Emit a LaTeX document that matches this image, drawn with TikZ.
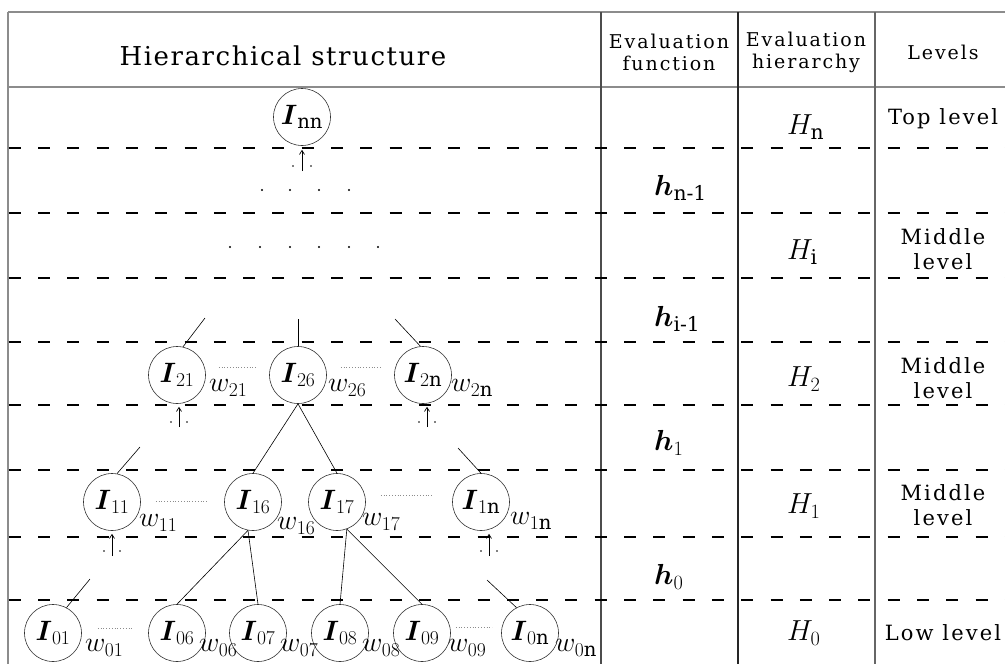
\RequirePackage{fix-cm}
\documentclass[tikz,border=0pt]{standalone}
\usepackage{amsmath,amssymb}
\usepackage{fontspec}
\setmainfont{DejaVu Serif}
\newfontfamily\spacedfont[LetterSpace=10]{DejaVu Serif}
\newfontfamily\titlefont[LetterSpace=6]{DejaVu Serif}
\usepackage{tikz}
\usetikzlibrary{arrows.meta, positioning}

\tikzset{
  unit/.style={circle, draw=black!80, line width=0.6pt, minimum size=57pt, inner sep=0pt,
    font=\fontsize{28}{30}\selectfont},
  wlab/.style={anchor=west, inner sep=0pt, font=\fontsize{28}{30}\selectfont},
  hlab/.style={anchor=west, inner sep=0pt, font=\fontsize{29}{31}\selectfont},
  lvl/.style={align=center, inner sep=0pt, font=\spacedfont\fontsize{21}{25}\selectfont},
  hdr/.style={align=center, inner sep=0pt, font=\spacedfont\fontsize{19}{22}\selectfont},
  frameline/.style={draw=black!45, line width=2pt},
  levline/.style={dash pattern=on 12pt off 17.3pt, dash phase=28.6pt, line width=1.1pt},
  wdots/.style={dotted, black!45, line width=0.8pt},
  uparr/.style={-{Straight Barb[length=4pt,width=5pt]}, line width=0.7pt},
  stub/.style={line width=0.6pt}
}

\begin{document}
\begin{tikzpicture}[x=1pt, y=-1pt]
  \useasboundingbox (0,0) rectangle (1005,664);

  % Frame and columns
  \draw[frameline] (8,12) -- (1005,12);
  \draw[frameline] (8,87) -- (1005,87);
  \draw[frameline] (8,12) -- (8,664);
  \draw[line width=1.5pt, black!70] (601,12) -- (601,664);
  \draw[line width=2pt, black!85] (738,12) -- (738,664);
  \draw[line width=1.5pt, black!60] (875,12) -- (875,664);

  % Level separators
  \foreach \y in {148,213,278,342,405,470,537,600}
    \draw[levline] (8,\y) -- (1005,\y);

  % Column heads
  \node[hdr, font=\titlefont\fontsize{26}{28}\selectfont] (title) at (283,56) {Hierarchical structure};
  \node[hdr] (efun) at (669,52) {Evaluation\\function};
  \node[hdr] (ehier) at (806,52) {Evaluation\\hierarchy};
  \node[hdr] (levels) at (943,52) {Levels};

  % Evaluation functions
  \node[hlab] (hn1) at (654,188) {$\boldsymbol{h}_{\text{n-1}}$};
  \node[hlab] (hi1) at (654,319) {$\boldsymbol{h}_{\text{i-1}}$};
  \node[hlab] (h1) at (654,443) {$\boldsymbol{h}_{1}$};
  \node[hlab] (h0) at (654,577) {$\boldsymbol{h}_{0}$};

  % Evaluation hierarchy
  \node[hlab] (Hn) at (787,127) {$H_{\text{n}}$};
  \node[hlab] (Hi) at (787,252) {$H_{\text{i}}$};
  \node[hlab] (H2) at (787,379) {$H_{2}$};
  \node[hlab] (H1) at (787,506) {$H_{1}$};
  \node[hlab] (H0) at (787,633) {$H_{0}$};

  % Levels
  \node[lvl] (ltop) at (943,119) {Top level};
  \node[lvl] (lmid3) at (943,249) {Middle\\level};
  \node[lvl] (lmid2) at (943,378) {Middle\\level};
  \node[lvl] (lmid1) at (943,505) {Middle\\level};
  \node[lvl] (llow) at (943,633) {Low level};

  % Top unit
  \node[unit] (Inn) at (302,117) {$\boldsymbol{I}_{\text{nn}}$};
  \coordinate (aInn) at (302,171);
  \draw[uparr, shorten >=4pt] (aInn) -- (Inn.south);
  \fill (293,166) circle (0.8pt) (311,166) circle (0.8pt);

  % Omitted levels
  \foreach \x in {262,290,319,349}
    \fill (\x,190) circle (1.2pt);
  \foreach \x in {230,260,290,319,349,378}
    \fill (\x,247) circle (1.2pt);

  % Level 2
  \node[unit] (I21) at (177,375) {$\boldsymbol{I}_{21}$};
  \node[unit] (I26) at (298,375) {$\boldsymbol{I}_{26}$};
  \node[unit] (I2n) at (423,375) {$\boldsymbol{I}_{2\text{n}}$};
  \node[wlab] (w21) at (209,388) {$w_{21}$};
  \node[wlab] (w26) at (328,388) {$w_{26}$};
  \node[wlab] (w2n) at (451,388) {$w_{2\text{n}}$};
  \draw[wdots, shorten <=13pt, shorten >=13pt] ([yshift=8pt]I21.east) -- ([yshift=8pt]I26.west);
  \draw[wdots, shorten <=14pt, shorten >=14pt] ([yshift=8pt]I26.east) -- ([yshift=8pt]I2n.west);
  \coordinate (s21) at (205,318);
  \coordinate (s26) at (298,319);
  \coordinate (s2n) at (395,319);
  \draw[stub] (I21.78) -- (s21);
  \draw[stub] (I26.north) -- (s26);
  \draw[stub] (I2n.95) -- (s2n);
  \coordinate (a21) at (179,427);
  \coordinate (a2n) at (427,427);
  \draw[uparr, shorten >=3pt] (a21) -- (a21 |- I21.south);
  \draw[uparr, shorten >=3pt] (a2n) -- (a2n |- I2n.south);
  \fill (171,422) circle (0.8pt) (187,422) circle (0.8pt);
  \fill (419,422) circle (0.8pt) (435,422) circle (0.8pt);

  % Level 1
  \node[unit] (I11) at (112,502) {$\boldsymbol{I}_{11}$};
  \node[unit] (I16) at (253,502) {$\boldsymbol{I}_{16}$};
  \node[unit] (I17) at (337,502) {$\boldsymbol{I}_{17}$};
  \node[unit] (I1n) at (481,502) {$\boldsymbol{I}_{1\text{n}}$};
  \node[wlab] (w11) at (139,523) {$w_{11}$};
  \node[wlab] (w16) at (277,526) {$w_{16}$};
  \node[wlab] (w17) at (362,522) {$w_{17}$};
  \node[wlab] (w1n) at (510,521) {$w_{1\text{n}}$};
  \draw[wdots, shorten <=15pt, shorten >=17pt] ([yshift=1pt]I11.east) -- ([yshift=1pt]I16.west);
  \draw[wdots, shorten <=15pt, shorten >=19pt] ([yshift=7pt]I17.east) -- ([yshift=7pt]I1n.west);
  \draw[stub] (I26.south) -- (I16.north);
  \draw[stub] (I26.south) -- (I17.north);
  \coordinate (s11) at (140,447);
  \coordinate (s1n) at (458,448);
  \draw[stub] (I11.80) -- (s11);
  \draw[stub] (I1n.north) -- (s1n);
  \coordinate (a11) at (112,556);
  \coordinate (a1n) at (489,556);
  \draw[uparr, shorten >=3pt] (a11) -- (a11 |- I11.south);
  \draw[uparr, shorten >=3pt] (a1n) -- (a1n |- I1n.south);
  \fill (104,551) circle (0.8pt) (120,551) circle (0.8pt);
  \fill (481,551) circle (0.8pt) (497,551) circle (0.8pt);

  % Level 0
  \node[unit] (I01) at (53,633) {$\boldsymbol{I}_{01}$};
  \node[unit] (I06) at (177,633) {$\boldsymbol{I}_{06}$};
  \node[unit] (I07) at (258,633) {$\boldsymbol{I}_{07}$};
  \node[unit] (I08) at (340,633) {$\boldsymbol{I}_{08}$};
  \node[unit] (I09) at (422,633) {$\boldsymbol{I}_{09}$};
  \node[unit] (I0n) at (530,633) {$\boldsymbol{I}_{0\text{n}}$};
  \node[wlab] (w01) at (85,648) {$w_{01}$};
  \node[wlab] (w06) at (199,648) {$w_{06}$};
  \node[wlab] (w07) at (280,648) {$w_{07}$};
  \node[wlab] (w08) at (362,648) {$w_{08}$};
  \node[wlab] (w09) at (448,648) {$w_{09}$};
  \node[wlab] (w0n) at (555,648) {$w_{0\text{n}}$};
  \draw[wdots, shorten <=16pt, shorten >=16pt] ([yshift=5pt]I01.east) -- ([yshift=5pt]I06.west);
  \draw[wdots, shorten <=5pt, shorten >=9pt] ([yshift=6pt]I09.east) -- ([yshift=6pt]I0n.west);
  \draw[stub] (I16.-100) -- (I06.north);
  \draw[stub] (I16.-100) -- (I07.north);
  \draw[stub] (I17.-70) -- (I08.north);
  \draw[stub] (I17.-70) -- (I09.north);
  \coordinate (s01) at (90,579);
  \coordinate (s0n) at (487,580);
  \draw[stub] (I01.62) -- (s01);
  \draw[stub] (I0n.118) -- (s0n);
\end{tikzpicture}
\end{document}
